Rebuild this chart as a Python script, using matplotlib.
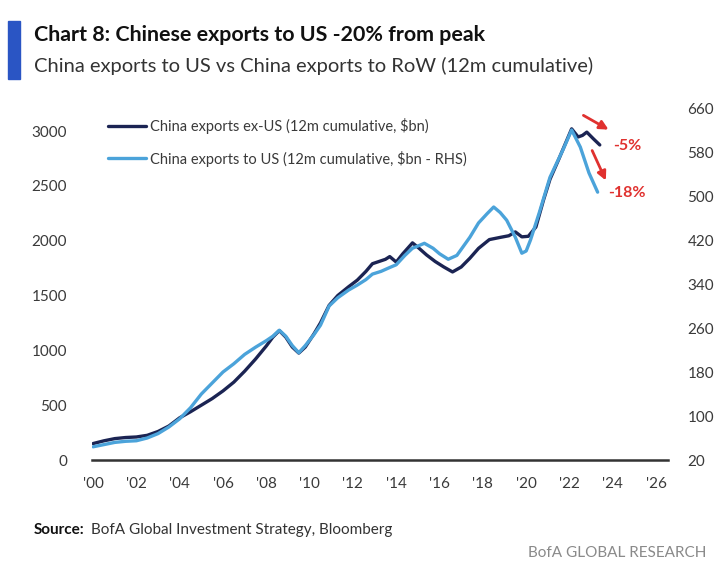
import matplotlib
matplotlib.use("Agg")
import matplotlib.pyplot as plt
from matplotlib.patches import Rectangle

# ---- data ----
exus_t = [2000.0, 2000.5, 2001.0, 2001.5, 2002.0, 2002.5, 2003.0, 2003.5, 2004.0, 2004.5,
          2005.0, 2005.5, 2006.0, 2006.5, 2007.0, 2007.5, 2008.0, 2008.3, 2008.6, 2008.9,
          2009.2, 2009.5, 2009.8, 2010.2, 2010.5, 2010.9, 2011.3, 2011.8, 2012.2, 2012.6,
          2012.9, 2013.2, 2013.5, 2013.7, 2014.0, 2014.3, 2014.75, 2015.0, 2015.4, 2015.8,
          2016.2, 2016.6, 2017.0, 2017.4, 2017.8, 2018.3, 2018.8, 2019.2, 2019.5, 2019.8,
          2020.1, 2020.45, 2020.8, 2021.1, 2021.5, 2021.8, 2022.1, 2022.4, 2022.6, 2022.8,
          2023.1, 2023.4]
exus_v = [150, 175, 195, 205, 210, 225, 260, 310, 385, 440,
          500, 560, 630, 710, 810, 920, 1040, 1120, 1180, 1120,
          1030, 975, 1030, 1150, 1250, 1410, 1500, 1580, 1640, 1720,
          1790, 1810, 1830, 1855, 1805, 1880, 1980, 1940, 1870, 1810,
          1760, 1715, 1760, 1840, 1930, 2010, 2030, 2045, 2080, 2035,
          2040, 2125, 2370, 2560, 2740, 2880, 3020, 2946, 2960, 2990,
          2930, 2873]

us_t = [2000.0, 2000.5, 2001.0, 2001.5, 2002.0, 2002.5, 2003.0, 2003.5, 2004.0, 2004.5,
        2005.0, 2005.5, 2006.0, 2006.5, 2007.0, 2007.5, 2008.0, 2008.3, 2008.6, 2008.9,
        2009.2, 2009.5, 2009.8, 2010.2, 2010.5, 2010.9, 2011.3, 2011.8, 2012.2, 2012.6,
        2012.9, 2013.3, 2013.7, 2014.0, 2014.4, 2014.75, 2015.3, 2015.7, 2016.0, 2016.4,
        2016.8, 2017.4, 2017.8, 2018.2, 2018.5, 2018.8, 2019.1, 2019.5, 2019.8, 2020.0,
        2020.2, 2020.6, 2021.1, 2021.7, 2022.1, 2022.5, 2022.9, 2023.3]
us_v = [44, 48, 52, 54, 55, 60, 68, 80, 95, 115,
        140, 160, 180, 195, 212, 225, 237, 245, 256, 245,
        228, 215, 228, 248, 265, 300, 315, 329, 338, 348,
        358, 363, 370, 375, 392, 405, 414, 405, 395, 385,
        392, 425, 451, 468, 480, 470, 456, 425, 396, 400,
        420, 469, 534, 584, 620, 589, 542, 507]

x_ticks = list(range(2000, 2027, 2))
x_labels = ["'%02d" % (y % 100) for y in x_ticks]
left_ticks = [0, 500, 1000, 1500, 2000, 2500, 3000]
right_ticks = [20, 100, 180, 260, 340, 420, 500, 580, 660]

title = "Chart 8: Chinese exports to US -20% from peak"
subtitle = "China exports to US vs China exports to RoW (12m cumulative)"
label_exus = "China exports ex-US (12m cumulative, $bn)"
label_us = "China exports to US (12m cumulative, $bn - RHS)"
source_head = "Source:"
source_body = "BofA Global Investment Strategy, Bloomberg"
brand = "BofA GLOBAL RESEARCH"

# ---- style ----
NAVY = "#1b2453"
LIGHT = "#4ba3da"
RED = "#e0312f"
TXT = "#3a3a3a"
BODY = ["Lato", "DejaVu Sans"]

fig = plt.figure(figsize=(7.2, 5.75), dpi=100)
W, H = 720, 575

def fx(px):
    return px / W

def fy(py):
    return 1 - py / H

ax = fig.add_axes([fx(92), fy(460), fx(668) - fx(92), fy(108) - fy(460)])
ax2 = ax.twinx()

l1, = ax.plot(exus_t, exus_v, color=NAVY, lw=2.4, solid_capstyle="round", zorder=3)
l2, = ax2.plot(us_t, us_v, color=LIGHT, lw=2.4, solid_capstyle="round", zorder=3)

ax.set_xlim(1999.95, 2026.55)
ax.set_ylim(0, 3210)
ax2.set_ylim(20, 660)

ax.set_xticks(x_ticks)
ax.set_xticklabels(x_labels, family=BODY, fontsize=11, color=TXT)
ax.set_yticks(left_ticks)
ax.set_yticklabels([str(v) for v in left_ticks], family=BODY, fontsize=11, color=TXT)
ax2.set_yticks(right_ticks)
ax2.set_yticklabels([str(v) for v in right_ticks], family=BODY, fontsize=11, color=TXT)

for a in (ax, ax2):
    for s in ("top", "left", "right", "bottom"):
        a.spines[s].set_visible(False)
    a.tick_params(length=0)
ax.spines["bottom"].set_visible(True)
ax.spines["bottom"].set_color("#333333")
ax.spines["bottom"].set_linewidth(1.8)
ax.tick_params(axis="x", pad=12)
ax.tick_params(axis="y", pad=18)
ax2.tick_params(axis="y", pad=14)

leg = ax.legend([l1, l2], [label_exus, label_us], loc="upper left",
                bbox_to_anchor=(fx(105) - fx(92), 1 + (108 - 112) / 352.0),
                bbox_transform=ax.transAxes, frameon=False,
                prop={"family": BODY, "size": 10.5}, handlelength=2.6,
                handletextpad=0.25, labelspacing=1.15, borderaxespad=0)
for t in leg.get_texts():
    t.set_color(TXT)

# annotations: arrows and percentage changes
pct_ex = round((exus_v[-1] / max(exus_v) - 1) * 100)
pct_us = round((us_v[-1] / max(us_v) - 1) * 100)

ax.annotate("", xy=(fx(611), fy(131)), xytext=(fx(581), fy(114)),
            xycoords="figure fraction", textcoords="figure fraction",
            arrowprops=dict(arrowstyle="-|>", color=RED, lw=2, mutation_scale=13))
ax.annotate("", xy=(fx(607), fy(183)), xytext=(fx(591), fy(148)),
            xycoords="figure fraction", textcoords="figure fraction",
            arrowprops=dict(arrowstyle="-|>", color=RED, lw=2, mutation_scale=13))
fig.text(fx(613), fy(146), "%d%%" % pct_ex, color=RED, family=BODY, fontsize=11.5,
         fontweight="bold", va="center", ha="left")
fig.text(fx(608), fy(193), "%d%%" % pct_us, color=RED, family=BODY, fontsize=11.5,
         fontweight="bold", va="center", ha="left")

# header
fig.patches.append(Rectangle((fx(8), fy(79)), fx(20) - fx(8), fy(21) - fy(79),
                             transform=fig.transFigure, color="#2a55c4"))
fig.text(fx(34), fy(35), title, family=BODY, fontsize=15.4, fontweight="bold",
         color="#111111", va="center", ha="left")
fig.text(fx(34), fy(66), subtitle, family=BODY, fontsize=14.5, color="#333333",
         va="center", ha="left")

# footer
t_src = fig.text(fx(34), fy(530), source_head, family=BODY, fontsize=11,
                 fontweight="bold", color="#111111", va="center", ha="left")
fig.canvas.draw()
bb = t_src.get_window_extent()
fig.text((bb.x1 + 6) / W, fy(530), source_body, family=BODY,
         fontsize=11, color="#333333", va="center", ha="left")
fig.text(fx(706), fy(553), brand, family=BODY, fontsize=11,
         color="#8a8a8a", va="center", ha="right")

fig.savefig("out.png", dpi=100)
